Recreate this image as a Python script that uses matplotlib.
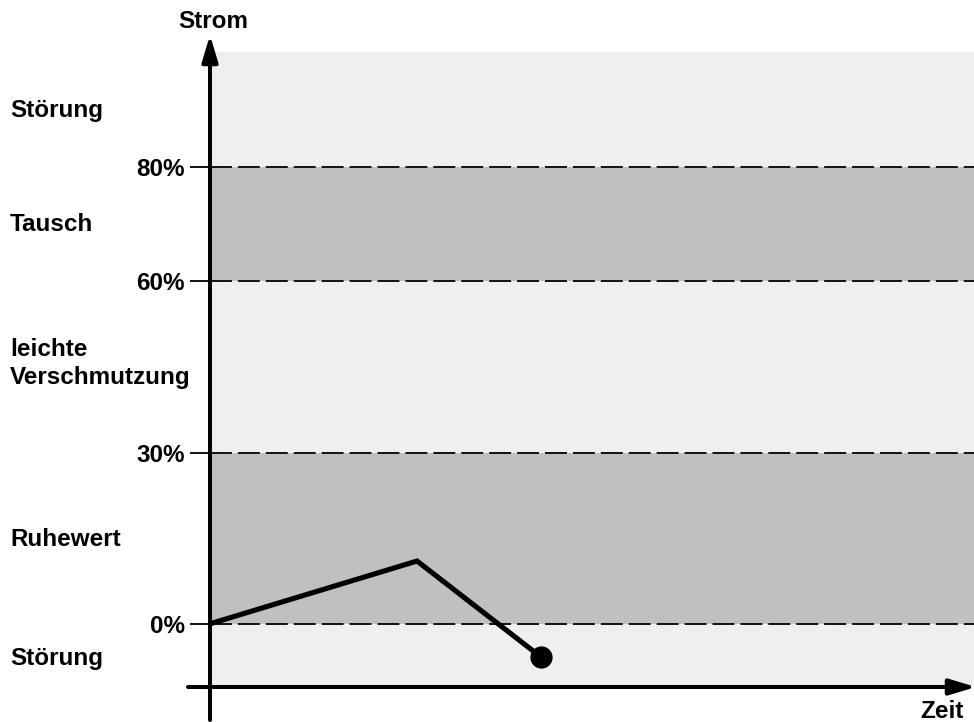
import matplotlib
matplotlib.use("Agg")
import matplotlib.pyplot as plt
import matplotlib.transforms as mtransforms

# ---- data ----
time = [0, 27.1, 43.3]
current = [0, 11.0, -5.8]
levels = [0, 30, 60, 80]
level_labels = ["0%", "30%", "60%", "80%"]
zone_names = ["Störung", "Tausch", "leichte\nVerschmutzung", "Ruhewert", "Störung"]
zone_pos = [90, 70, 45.6, 14.7, -6]
dark_bands = [(0, 30), (60, 80)]
x_label = "Zeit"
y_label = "Strom"

plt.rcParams['font.family'] = ['Liberation Sans', 'DejaVu Sans']
plt.rcParams['lines.scale_dashes'] = False
FS = 17.5

W, H = 974, 722
fig = plt.figure(figsize=(W / 100, H / 100), dpi=100)
ax = fig.add_axes([210 / W, 1 - 686 / H, (974 - 210) / W, (686 - 52) / H])
ax.set_xlim(0, 100)
ax.set_ylim(-10.9, 100.2)
ax.set_facecolor('#efefef')
for s in ax.spines.values():
    s.set_visible(False)

for lo, hi in dark_bands:
    ax.axhspan(lo, hi, color='#c0c0c0', lw=0, zorder=1)

for lv in levels:
    ln = ax.axhline(lv, color='#111111', lw=1.4, zorder=2)
    ln.set_dashes((15.8, 4.3))

ax.set_xticks([])
ax.set_yticks(levels)
ax.set_yticklabels(level_labels, fontsize=FS, fontweight='bold')
ax.tick_params(axis='y', length=14.4, width=1.4, pad=3.6, color='#111111')

ax.plot(time, current, color='black', lw=3.7, solid_joinstyle='miter', zorder=4)
ax.plot(time[-1:], current[-1:], 'o', color='black', ms=15, zorder=5)

# zone labels at left
trans = mtransforms.blended_transform_factory(fig.transFigure, ax.transData)
for name, p in zip(zone_names, zone_pos):
    ax.text(10 / W, p, name, transform=trans, ha='left', va='center',
            fontsize=FS, fontweight='bold', linespacing=1.3, clip_on=False)

# axes arrows
ax.annotate('', xy=(210, H - 35), xytext=(210, H - 720), xycoords='figure pixels',
            textcoords='figure pixels',
            arrowprops=dict(arrowstyle='-|>,head_length=0.8,head_width=0.24',
                            lw=2.9, color='black', shrinkA=0, shrinkB=0,
                            mutation_scale=20))
ax.annotate('', xy=(976, H - 687), xytext=(188, H - 687), xycoords='figure pixels',
            textcoords='figure pixels',
            arrowprops=dict(arrowstyle='-|>,head_length=0.8,head_width=0.24',
                            lw=2.9, color='black', shrinkA=0, shrinkB=0,
                            mutation_scale=20))

fig.text(213 / W, 1 - 21 / H, y_label, ha='center', va='center', fontsize=FS,
         fontweight='bold')
fig.text(964 / W, 1 - 711 / H, x_label, ha='right', va='center', fontsize=FS,
         fontweight='bold')

fig.savefig('out.png', dpi=100)
